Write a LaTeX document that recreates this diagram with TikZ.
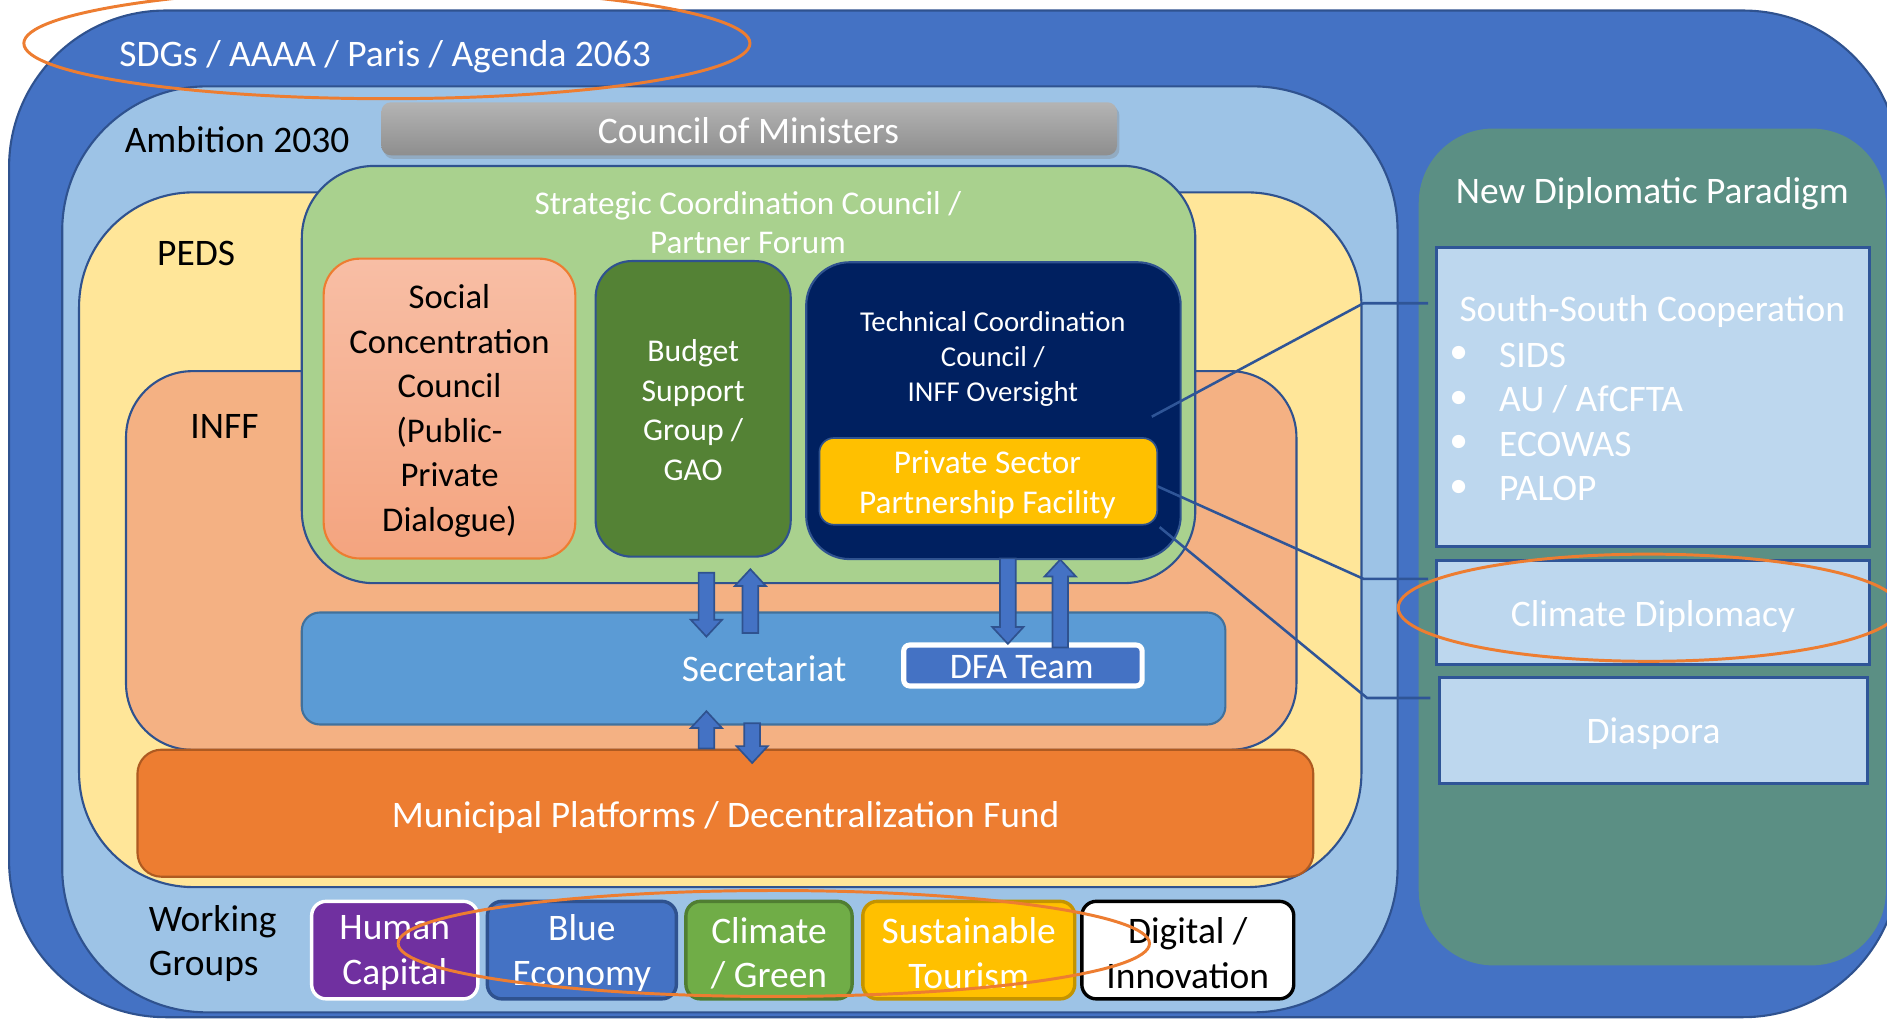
\documentclass[tikz,border=0pt]{standalone}
\usepackage{fontspec}
\setmainfont{Carlito}
\usetikzlibrary{calc,shadows}
\definecolor{cOuter}{HTML}{4472C4}
\definecolor{cEdge}{HTML}{2F528F}
\definecolor{cAmb}{HTML}{9DC3E6}
\definecolor{cPeds}{HTML}{FFE699}
\definecolor{cInff}{HTML}{F4B183}
\definecolor{cStrat}{HTML}{A9D18E}
\definecolor{cBudget}{HTML}{548235}
\definecolor{cTech}{HTML}{002060}
\definecolor{cGold}{HTML}{FFC000}
\definecolor{cGoldEdge}{HTML}{C49400}
\definecolor{cSec}{HTML}{5B9BD5}
\definecolor{cSecEdge}{HTML}{41719C}
\definecolor{cOrange}{HTML}{ED7D31}
\definecolor{cOrangeEdge}{HTML}{AE5A21}
\definecolor{cPurple}{HTML}{7030A0}
\definecolor{cGreen}{HTML}{70AD47}
\definecolor{cGreenEdge}{HTML}{507E32}
\definecolor{cTeal}{HTML}{5B8F84}
\definecolor{cPale}{HTML}{BDD7EE}
\definecolor{cLine}{HTML}{2F5597}
\definecolor{cGrayT}{HTML}{B4B4B4}
\definecolor{cGrayB}{HTML}{8E8E8E}
\definecolor{cSalT}{HTML}{F8BEA5}
\definecolor{cSalB}{HTML}{F4A47F}
\newcommand\varrow[3]{%
  \pgfmathsetmacro\vhd{(#3>#2) ? 14 : -14}%
  \pgfmathsetmacro\vyb{#3-\vhd}%
  \filldraw[blockarrow] (#1-6.5,#2) -- (#1+6.5,#2) -- (#1+6.5,\vyb) -- (#1+13,\vyb) -- (#1,#3) -- (#1-13,\vyb) -- (#1-6.5,\vyb) -- cycle;
}
\begin{document}
\begin{tikzpicture}[x=0.01cm,y=-0.01cm,
  box/.style={rectangle, inner sep=0pt, outer sep=0pt, draw=cEdge, line width=0.5pt, align=center},
  lab/.style={inner sep=0pt, align=center, font=\fontsize{8.85}{10.5}\selectfont},
  wlab/.style={lab, text=white},
  blockarrow/.style={fill=cOuter, draw=cEdge, line width=0.4pt},
  conn/.style={draw=cLine, line width=0.6pt},
  ring/.style={draw=cOrange, line width=0.7pt},
  wgbox/.style={rectangle, inner sep=0pt, rounded corners=0.12cm, minimum height=0.81cm, line width=0.8pt},
  rbox/.style={rectangle, inner sep=0pt, fill=cPale, draw=cLine, line width=0.7pt}
]
\useasboundingbox (0,0) rectangle (1568,846);
\clip (0,0) rectangle (1568,846);

% outer frames
\node[box, fill=cOuter, rounded corners=1.3cm, minimum width=15.70cm, minimum height=8.36cm] (outer) at (793,427) {};
\node[rectangle, fill=cTeal, rounded corners=0.62cm, minimum width=3.88cm, minimum height=6.95cm] (ndp) at (1373,454.5) {};
\node[box, fill=cAmb, rounded corners=1.2cm, minimum width=11.09cm, minimum height=7.69cm] (amb) at (606.5,456.5) {};
\node[rectangle, inner sep=0pt, rounded corners=0.08cm, top color=cGrayT, bottom color=cGrayB, minimum width=6.11cm, minimum height=0.44cm, drop shadow={shadow xshift=0.02cm, shadow yshift=-0.03cm, opacity=0.35}] (com) at (622.5,107) {};
\node[wlab] (comt) at (622,108.5) {Council of Ministers};
\node[box, fill=cPeds, rounded corners=0.95cm, minimum width=10.65cm, minimum height=5.77cm] (peds) at (598.5,448.5) {};
\node[box, fill=cInff, rounded corners=0.55cm, minimum width=9.72cm, minimum height=3.145cm] (inff) at (591,465.75) {};
\node[box, fill=cStrat, rounded corners=0.6cm, minimum width=7.42cm, minimum height=3.465cm] (strat) at (622,311.25) {};

% inner boxes
\node[box, draw=cOrange, top color=cSalT, bottom color=cSalB, rounded corners=0.3cm, minimum width=2.09cm, minimum height=2.49cm] (scc) at (373.5,339.5) {};
\node[lab, font=\fontsize{8.2}{10.5}\selectfont] (scct) at (373.5,341.5) {Social\\Concentration\\Council\\(Public-\\Private\\Dialogue)};
\node[box, fill=cBudget, rounded corners=0.3cm, minimum width=1.62cm, minimum height=2.455cm] (bsg) at (576,339.75) {};
\node[wlab, font=\fontsize{7.5}{9.4}\selectfont] (bsgt) at (576,340.75) {Budget\\Support\\Group /\\GAO};
\node[box, fill=cTech, rounded corners=0.36cm, minimum width=3.11cm, minimum height=2.465cm] (tcc) at (825.5,341.25) {};
\node[wlab, font=\fontsize{6.8}{8.25}\selectfont] (tcct) at (825,298) {Technical Coordination\\Council /\\INFF Oversight};
\node[box, fill=cGold, draw=cEdge, line width=0.4pt, rounded corners=0.12cm, minimum width=2.805cm, minimum height=0.72cm] (psp) at (821.25,400) {};
\node[wlab, font=\fontsize{7.85}{9.5}\selectfont] (pspt) at (820.5,403) {Private Sector\\Partnership Facility};

\node[box, fill=cSec, draw=cSecEdge, rounded corners=0.15cm, minimum width=7.67cm, minimum height=0.93cm] (sec) at (634.5,555.5) {};
\node[wlab] (sect) at (635,556) {Secretariat};
\node[rectangle, inner sep=0pt, fill=cOuter, draw=white, line width=1.2pt, rounded corners=0.05cm, minimum width=1.98cm, minimum height=0.34cm] (dfa) at (850,553) {};
\node[wlab, font=\fontsize{8.5}{10}\selectfont] (dfat) at (849,554) {DFA Team};

\node[box, fill=cOrange, draw=cOrangeEdge, rounded corners=0.2cm, minimum width=9.765cm, minimum height=1.055cm] (mun) at (602.75,675.75) {};
\node[wlab] (munt) at (603,679) {Municipal Platforms / Decentralization Fund};

% arrows
\varrow{587}{476}{529}
\varrow{623.5}{526}{473}
\varrow{837.5}{464}{535}
\varrow{881}{538}{465}
\varrow{587}{622}{591}
\varrow{625}{601}{634}

% labels
\node[wlab] (sdg) at (320,47) {SDGs / AAAA / Paris / Agenda 2063};
\node[lab] (ambl) at (197,116) {Ambition 2030};
\node[lab] (pedsl) at (163,211) {PEDS};
\node[lab] (inffl) at (186.5,354) {INFF};
\node[wlab, font=\fontsize{7.83}{9.4}\selectfont] (stratl) at (621.5,185) {Strategic Coordination Council /\\Partner Forum};

% working groups
\node[lab, align=left, anchor=west, font=\fontsize{8.85}{10.2}\selectfont] (wg) at (123,784) {Working\\Groups};
\node[wgbox, fill=cPurple, draw=white, minimum width=1.38cm] (wg1) at (328,789.5) {};
\node[wgbox, fill=cOuter, draw=cEdge, minimum width=1.57cm] (wg2) at (483.5,789.5) {};
\node[wgbox, fill=cGreen, draw=cGreenEdge, minimum width=1.38cm] (wg3) at (639,789.5) {};
\node[wgbox, fill=cGold, draw=cGoldEdge, minimum width=1.76cm] (wg4) at (805,789.5) {};
\node[wgbox, fill=white, draw=black, minimum width=1.76cm] (wg5) at (987,789.5) {};
\node[wlab] at (328,792) {Human\\Capital};
\node[wlab] at (483.5,792) {Blue\\Economy};
\node[wlab] at (639,792) {Climate\\/ Green};
\node[wlab] at (805,792) {Sustainable\\Tourism};
\node[lab] at (987,792) {Digital /\\Innovation};

% right panel
\node[wlab] (ndpl) at (1373,161) {New Diplomatic Paradigm};
\node[rbox, minimum width=3.59cm, minimum height=2.485cm] (ssc) at (1373.5,329.75) {};
\node[rbox, minimum width=3.59cm, minimum height=0.86cm] (cd) at (1373.5,509) {};
\node[rbox, minimum width=3.56cm, minimum height=0.88cm] (dia) at (1374,607) {};
\node[wlab] (cdt) at (1373.5,512) {Climate Diplomacy};
\node[wlab] (diat) at (1374,610) {Diaspora};
\node[wlab] (sscl) at (1373,259) {South-South Cooperation};
\foreach \t/\yy in {SIDS/295, {AU / AfCFTA}/332, ECOWAS/369, PALOP/406}{
  \node[wlab] at (1212,\yy) {•};
  \node[wlab, anchor=west] at (1245,\yy) {\t};
}

% connectors
\coordinate (e1) at (1133,252);
\coordinate (e2) at (1133,481);
\coordinate (e3) at (1136,580);
\draw[conn] ($(tcc.east)+(-24,5)$) -- (e1) -- ($(e1 -| ssc.west)+(-6,0)$);
\draw[conn] ($(psp.east)+(0,4)$) -- (e2) -- ($(e2 -| cd.west)+(-6,0)$);
\draw[conn] ($(psp.south east)+(2,2)$) -- (e3) -- ($(e3 -| dia.west)+(-6,0)$);

% highlight ellipses
\draw[ring] (321.5,36) ellipse [x radius=3.015cm, y radius=0.46cm];
\draw[ring] (1370,505) ellipse [x radius=2.08cm, y radius=0.445cm];
\draw[ring] (643,784) ellipse [x radius=3.12cm, y radius=0.44cm];
\end{tikzpicture}
\end{document}
